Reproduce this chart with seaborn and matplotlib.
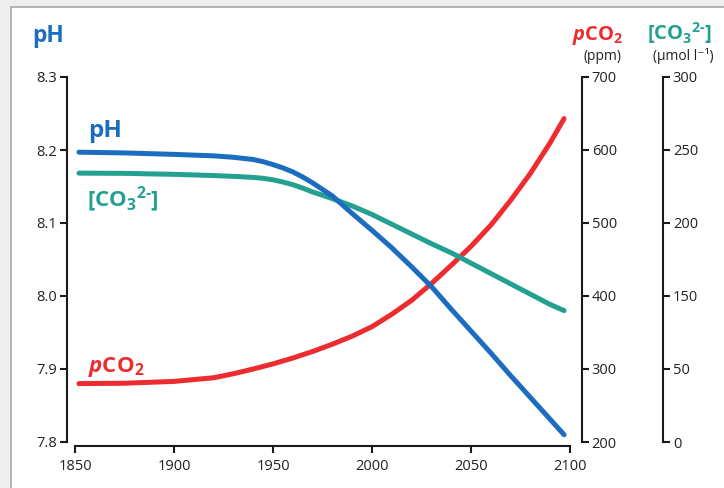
import matplotlib
matplotlib.use("Agg")
import matplotlib.pyplot as plt
import seaborn as sns
import pandas as pd
from matplotlib.patches import Rectangle

# values
years = [1852, 1875, 1900, 1920, 1930, 1940, 1945, 1950, 1955, 1960, 1965,
         1970, 1975, 1980, 1985, 1990, 2000, 2010, 2020, 2030, 2040, 2050,
         2060, 2070, 2080, 2090, 2097]
ph = [8.197, 8.196, 8.194, 8.192, 8.190, 8.187, 8.184, 8.180, 8.1755, 8.170, 8.163,
      8.155, 8.146, 8.137, 8.125, 8.113, 8.090, 8.066, 8.040, 8.013, 7.982, 7.952,
      7.922, 7.891, 7.861, 7.831, 7.810]
pco2 = [280, 280.5, 283, 288, 293.5, 300, 303.5, 307, 311, 315, 319.5,
        324, 329, 334, 339.5, 345, 358, 375, 394, 417, 442, 468,
        497, 531, 568, 610, 643]
co3 = [221, 220.8, 220, 219, 218.3, 217.5, 216.7, 215.5, 213.7, 211.5, 208.7,
       205.5, 202.8, 200, 197, 194, 187, 179, 171, 163, 155.5, 147,
       138.5, 130, 121.5, 113, 108]

ph_ticks = [7.8, 7.9, 8.0, 8.1, 8.2, 8.3]
pco2_ticks = [200, 300, 400, 500, 600, 700]
# the reference spaces its carbonate labels evenly (no 100 label)
co3_tick_pos = [0, 60, 120, 180, 240, 300]
co3_tick_labels = ["0", "50", "150", "200", "250", "300"]
year_ticks = [1850, 1900, 1950, 2000, 2050, 2100]

BLUE = "#1c6dbf"
TEAL = "#23a08f"
RED = "#ee2b2f"

df = pd.DataFrame({"year": years, "ph": ph, "pco2": pco2, "co3": co3})

sns.set_theme(style="white")
plt.rcParams["font.family"] = ["Open Sans", "DejaVu Sans"]
plt.rcParams["mathtext.fontset"] = "custom"
plt.rcParams["mathtext.rm"] = "Open Sans:bold"
plt.rcParams["mathtext.it"] = "Open Sans:italic:bold"
plt.rcParams["mathtext.bf"] = "Open Sans:bold"

W, H = 724, 488
fig = plt.figure(figsize=(W / 100, H / 100), dpi=100, facecolor="#efefef")
fig.patches.append(Rectangle((11 / W, -0.1), 1.1, 1 - 7 / H + 0.1, transform=fig.transFigure,
                             facecolor="white", edgecolor="#a8a8a8", linewidth=1.2, zorder=-10))

def px(x0, y0, x1, y1):
    return [x0 / W, 1 - y1 / H, (x1 - x0) / W, (y1 - y0) / H]

ax = fig.add_axes(px(75, 77, 570, 442))
ax2 = ax.twinx()
ax3 = ax.twinx()
ax.set_zorder(ax3.get_zorder() + 1)
ax.patch.set_alpha(0)

sns.lineplot(data=df, x="year", y="ph", ax=ax, color=BLUE, lw=3.6)
sns.lineplot(data=df, x="year", y="pco2", ax=ax2, color=RED, lw=3.6)
sns.lineplot(data=df, x="year", y="co3", ax=ax3, color=TEAL, lw=3.6)

ax.set_xlim(1850, 2100)
ax.set_ylim(7.8, 8.3)
ax2.set_ylim(200, 700)
ax3.set_ylim(0, 300)

for a in (ax, ax2, ax3):
    for s in a.spines.values():
        s.set_visible(False)
        s.set_linewidth(1.5)
        s.set_color("#1a1a1a")
    a.set_xlabel("")
    a.set_ylabel("")
    a.tick_params(length=5, width=1.5, color="#1a1a1a", labelsize=10.5, pad=2,
                  labelcolor="#222222")

ax.spines["left"].set_visible(True)
ax.spines["left"].set_position(("outward", 5.8))
ax.spines["left"].set_bounds(7.8, 8.3)
ax.spines["bottom"].set_visible(True)
ax.spines["bottom"].set_position(("outward", 3))
ax.spines["bottom"].set_bounds(1850, 2100)
ax.set_yticks(ph_ticks)
ax.set_yticklabels([f"{v:.1f}" for v in ph_ticks])
ax.set_xticks(year_ticks)
ax.tick_params(axis="x", pad=4, bottom=True)
ax.tick_params(axis="y", left=True)

ax2.spines["right"].set_visible(True)
ax2.spines["right"].set_position(("outward", 8.6))
ax2.set_yticks(pco2_ticks)
ax2.tick_params(axis="y", right=True)

ax3.spines["right"].set_visible(True)
ax3.spines["right"].set_position(("outward", 67))
ax3.set_yticks(co3_tick_pos)
ax3.set_yticklabels(co3_tick_labels)
ax3.tick_params(axis="y", right=True)

CO3_LABEL = r"$[\mathrm{CO}_3{}^{2\text{-}}]$"
PCO2_LABEL = r"$\mathit{p}\mathrm{CO}_2$"

# in-plot labels
fig.text(88 / W, 1 - 137 / H, "pH", color=BLUE, fontsize=17.5, fontweight="bold")
fig.text(87 / W, 1 - 207 / H, CO3_LABEL, color=TEAL, fontsize=16)
fig.text(88 / W, 1 - 372 / H, PCO2_LABEL, color=RED, fontsize=16)

# header labels
fig.text(32 / W, 1 - 42 / H, "pH", color=BLUE, fontsize=16.5, fontweight="bold")
fig.text(572 / W, 1 - 40 / H, PCO2_LABEL, color=RED, fontsize=14.5)
fig.text(647 / W, 1 - 40 / H, CO3_LABEL, color=TEAL, fontsize=14.5)
fig.text(603 / W, 1 - 56 / H, "(ppm)", color="#222222", fontsize=10, ha="center", va="center")
fig.text(683 / W, 1 - 56 / H, "(μmol l⁻¹)", color="#222222", fontsize=10, ha="center", va="center")

fig.savefig("out.png", dpi=100, facecolor=fig.get_facecolor())
